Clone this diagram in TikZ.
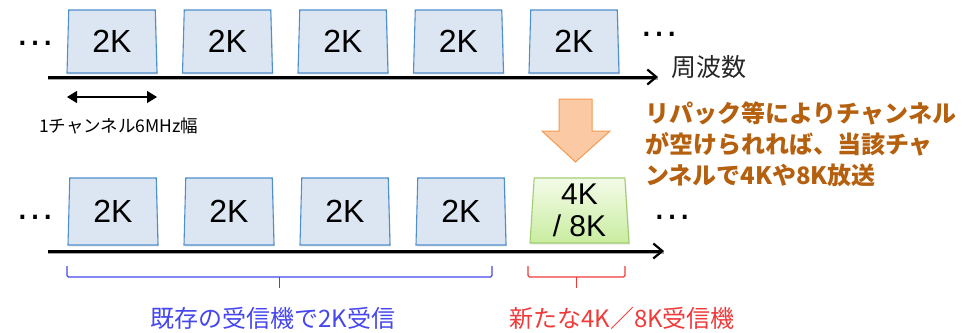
\documentclass[tikz,border=0pt]{standalone}
\usepackage{fontspec}
\setmainfont{Liberation Sans}
\newfontfamily\jp{Noto Sans CJK JP}
\usepackage{tikz}
\usetikzlibrary{arrows.meta, positioning, calc, shapes.geometric, shadows}
\definecolor{chFill}{HTML}{DCE6F2}
\definecolor{chLine}{HTML}{4F8FCC}
\definecolor{newTop}{HTML}{F3FBE8}
\definecolor{newBottom}{HTML}{C9EDA0}
\definecolor{newLine}{HTML}{A2CC72}
\definecolor{repackFill}{HTML}{FBC9A3}
\definecolor{repackLine}{HTML}{F29A52}
\definecolor{noteBrown}{HTML}{B5600F}
\definecolor{oldBlue}{HTML}{4646EE}
\definecolor{newRed}{HTML}{F03A3A}

\begin{document}
\begin{tikzpicture}[
    x=1pt, y=-1pt,
    channel/.style={trapezium, trapezium stretches body, trapezium left angle=85.5, trapezium right angle=85.5,
      draw=chLine, line width=1.1pt, fill=chFill, minimum width=90pt, minimum height=63pt, inner sep=0pt,
      font=\fontsize{32}{34}\selectfont, drop shadow={opacity=0.18, shadow xshift=1pt, shadow yshift=-1.5pt}},
    newch/.style={channel, draw=newLine, top color=newTop, bottom color=newBottom, minimum width=99pt, minimum height=65pt,
      align=center, font=\fontsize{30}{32}\selectfont},
    axis/.style={line width=3pt, -{Straight Barb[length=9pt, width=15pt, line width=2.2pt]},
      preaction={draw=black!35, line width=3pt, transform canvas={yshift=-1.5pt}, -}},
    dots/.style={font=\fontsize{40}{40}\selectfont, inner sep=0pt},
    bracket/.style={line width=1.1pt, rounded corners=1.5pt},
    jplabel/.style={font=\jp\fontsize{24}{26}\selectfont, inner sep=0pt}
  ]
  \useasboundingbox (0,0) rectangle (963,332);

  % Upper row: today's channels
  \node[dots] (tdotsl) at (35,43) {\ldots};
  \node[channel] (t1) at (112,41.5) {2K};
  \node[channel] (t2) at (227.5,41.5) {2K};
  \node[channel] (t3) at (343,41.5) {2K};
  \node[channel] (t4) at (458.5,41.5) {2K};
  \node[channel] (t5) at (574,41.5) {2K};
  \node[dots] (tdotsr) at (659,34) {\ldots};
  \coordinate (taxis0) at (48,77);
  \coordinate (taxis1) at (658,77);
  \draw[axis] (taxis0) -- (taxis1);
  \node[jplabel, font=\jp\fontsize{25}{27}\selectfont, text=black!85, anchor=west] (freq) at (671,67) {周波数};

  % Channel width
  \coordinate (wl) at (67,97);
  \coordinate (wr) at (157,97);
  \draw[line width=1.3pt, {Triangle[length=10pt, width=12pt]}-{Triangle[length=10pt, width=12pt]}] (wl) -- (wr);
  \node[jplabel, font=\jp\fontsize{17.5}{19}\selectfont, anchor=west] (width) at (39,126) {1チャンネル6MHz幅};

  % Repack arrow and note
  \draw[draw=repackLine, fill=repackFill, line width=1pt, line join=miter]
    (559,99) -- (592,99) -- (592,131) -- (610,131) -- (575.5,162) -- (542,131) -- (559,131) -- cycle;
  \node[jplabel, font=\jp\bfseries\fontsize{24}{31}\selectfont, text=noteBrown, align=left, anchor=north west] (note) at (645,102)
    {リパック等によりチャンネル\\が空けられれば、当該チャ\\ンネルで4Kや8K放送};

  % Lower row: after repack
  \node[dots] (bdotsl) at (36,217) {\ldots};
  \node[channel, minimum height=67pt] (b1) at (113,211.5) {2K};
  \node[channel, minimum height=67pt] (b2) at (229,211.5) {2K};
  \node[channel, minimum height=67pt] (b3) at (345,211.5) {2K};
  \node[channel, minimum height=67pt] (b4) at (461,211.5) {2K};
  \node[newch] (b5) at (579.5,210.5) {4K\\/ 8K};
  \node[dots] (bdotsr) at (672,217) {\ldots};
  \coordinate (baxis0) at (48,251);
  \coordinate (baxis1) at (664,251);
  \draw[axis] (baxis0) -- (baxis1);

  % Receivers
  \draw[bracket, oldBlue] (67,266) -- (67,277) -- (492,277) -- (492,266);
  \draw[bracket, oldBlue] (279.5,277) -- (279.5,288);
  \node[jplabel, text=oldBlue] (oldrx) at (273,318) {既存の受信機で2K受信};
  \draw[bracket, newRed] (528,266) -- (528,277) -- (625,277) -- (625,266);
  \draw[bracket, newRed] (576.5,277) -- (576.5,288);
  \node[jplabel, text=newRed] (newrx) at (622,318) {新たな4K／8K受信機};

\end{tikzpicture}
\end{document}
